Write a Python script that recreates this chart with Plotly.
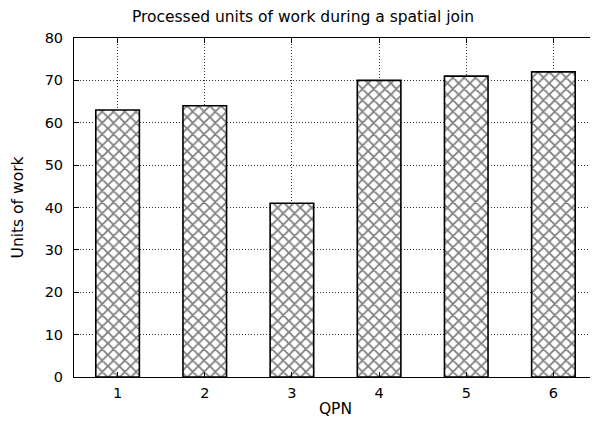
import plotly.graph_objects as go

qpn = [1, 2, 3, 4, 5, 6]
units = [63, 64, 41, 70, 71, 72]
y_ticks = [0, 10, 20, 30, 40, 50, 60, 70, 80]

FONT = "DejaVu Sans"
FS = 14.5
FT = 15.5

W, H = 590, 417

fig = go.Figure()
fig.add_trace(go.Bar(
    x=qpn, y=units, width=0.5,
    marker=dict(
        color="white",
        line=dict(color="black", width=1.6),
        pattern=dict(shape="x", fgcolor="black", bgcolor="white", size=8, solidity=0.4),
    ),
))

axis_common = dict(
    showline=True, linecolor="black", linewidth=1, mirror="ticks",
    ticks="inside", ticklen=5, tickcolor="black", tickwidth=1,
    showgrid=True, gridcolor="#333333", gridwidth=1, griddash="1px,2px",
    zeroline=False, automargin=False,
    tickfont=dict(family=FONT, size=FS, color="black"),
)

fig.update_layout(
    width=W, height=H,
    margin=dict(l=66, r=1, t=30, b=48),
    paper_bgcolor="white", plot_bgcolor="white",
    font=dict(family=FONT, size=FS, color="black"),
    title=dict(text="Processed units of work during a spatial join", x=0.5,
               xanchor="center", y=1 - 9 / H, yanchor="middle", font=dict(family=FONT, size=FT)),
    showlegend=False,
    xaxis=dict(range=[0.5, 6.5], tickvals=qpn, ticklabelstandoff=3,
               title=dict(text="QPN", standoff=2, font=dict(family=FONT, size=FT)), **axis_common),
    yaxis=dict(range=[0, 80], tickvals=y_ticks, ticklabelstandoff=7,
               title=dict(text="Units of work", standoff=17, font=dict(family=FONT, size=FT)), **axis_common),
)

fig.write_html("out.html")
